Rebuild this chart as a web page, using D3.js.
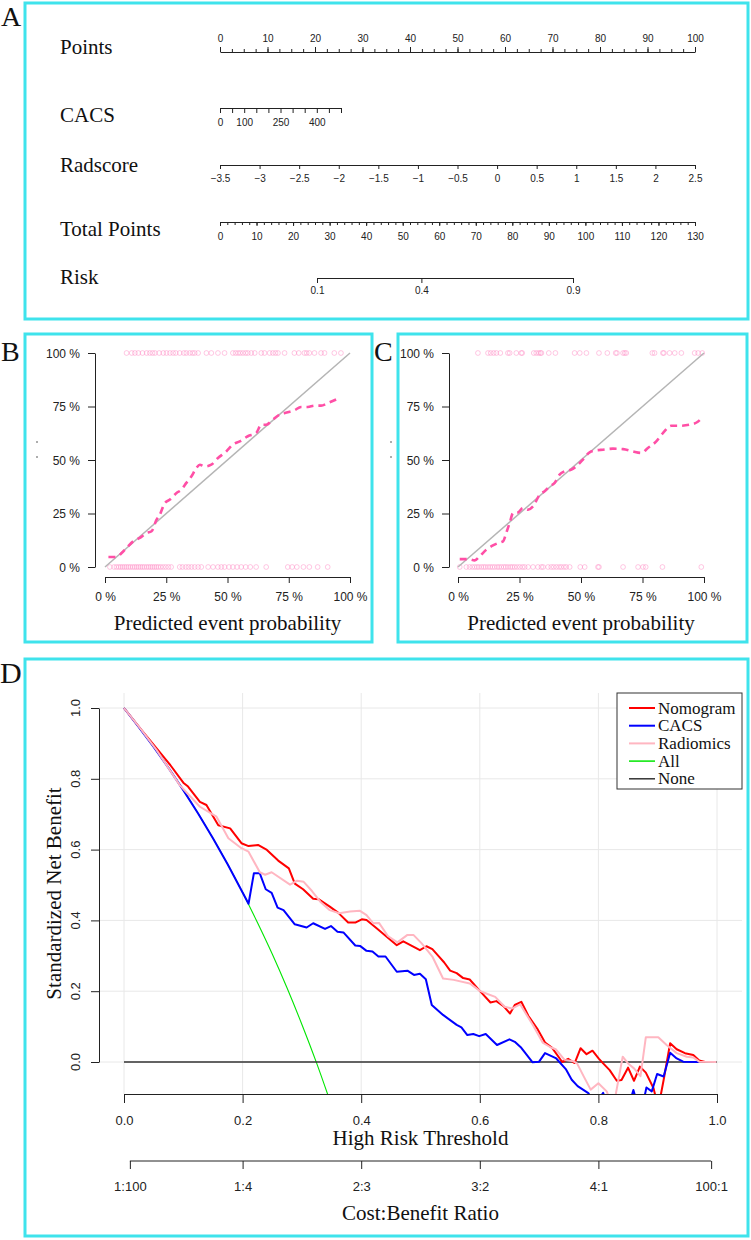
<!DOCTYPE html>
<html><head><meta charset="utf-8">
<script src="https://cdn.jsdelivr.net/npm/d3@7/dist/d3.min.js"></script>
<style>body{margin:0;background:#fff}
.serif{font-family:"Liberation Serif","Tinos","Times New Roman","DejaVu Serif",serif}
.sans{font-family:"Liberation Sans","Arimo",Arial,sans-serif}
</style>
</head><body>
<script>
// ---------- DATA ----------
// Panel A nomogram
const pointsLabels = [0,10,20,30,40,50,60,70,80,90,100];
const cacsTicks = [0,50,100,150,200,250,300,350,400,450,500];
const cacsLabels = [0,100,250,400];
const radTicks = [-3.5,-3,-2.5,-2,-1.5,-1,-0.5,0,0.5,1,1.5,2,2.5];
const totalLabels = [0,10,20,30,40,50,60,70,80,90,100,110,120,130];
const riskTicks = [0.1,0.4,0.9];
// Panel B calibration
const pctTicks = [0,0.25,0.5,0.75,1];
const pctLabels = ["0 %","25 %","50 %","75 %","100 %"];
const calB_events = [0.088,0.109,0.122,0.136,0.153,0.170,0.183,0.194,0.204,0.221,0.238,0.251,0.265,0.278,0.289,0.305,0.322,0.332,0.346,0.357,0.366,0.380,0.414,0.434,0.461,0.488,0.522,0.533,0.543,0.552,0.563,0.574,0.583,0.597,0.611,0.638,0.651,0.672,0.685,0.696,0.706,0.733,0.773,0.791,0.814,0.823,0.834,0.855,0.882,0.896,0.936,0.963];
const calB_nonevents = [0.020,0.037,0.047,0.056,0.064,0.072,0.080,0.088,0.096,0.104,0.113,0.121,0.129,0.137,0.145,0.153,0.161,0.170,0.178,0.186,0.194,0.202,0.210,0.218,0.227,0.237,0.248,0.259,0.270,0.305,0.316,0.330,0.341,0.353,0.366,0.380,0.393,0.421,0.441,0.461,0.475,0.488,0.506,0.522,0.539,0.556,0.574,0.593,0.617,0.658,0.746,0.764,0.783,0.810,0.834,0.868,0.909];
const calB_curve = [[0.014,0.047],[0.047,0.047],[0.068,0.065],[0.088,0.089],[0.115,0.12],[0.142,0.136],[0.17,0.159],[0.19,0.167],[0.21,0.22],[0.224,0.245],[0.244,0.299],[0.265,0.315],[0.292,0.346],[0.312,0.361],[0.332,0.393],[0.353,0.424],[0.373,0.463],[0.387,0.478],[0.407,0.47],[0.434,0.478],[0.461,0.509],[0.495,0.54],[0.522,0.572],[0.55,0.587],[0.583,0.611],[0.617,0.626],[0.638,0.665],[0.658,0.665],[0.685,0.688],[0.712,0.712],[0.746,0.723],[0.773,0.732],[0.8,0.748],[0.828,0.748],[0.855,0.754],[0.882,0.754],[0.909,0.766],[0.957,0.79]];
// Panel C calibration
const calC_events = [0.081,0.122,0.133,0.145,0.156,0.172,0.203,0.210,0.237,0.257,0.261,0.308,0.318,0.328,0.335,0.339,0.369,0.396,0.474,0.495,0.522,0.573,0.607,0.641,0.646,0.671,0.678,0.684,0.790,0.799,0.833,0.837,0.860,0.881,0.908,0.962,0.976,0.993];
const calC_nonevents = [0.007,0.034,0.047,0.058,0.068,0.077,0.085,0.095,0.104,0.112,0.122,0.131,0.140,0.149,0.159,0.167,0.176,0.186,0.194,0.203,0.213,0.221,0.230,0.240,0.251,0.262,0.271,0.285,0.305,0.325,0.339,0.346,0.366,0.379,0.389,0.400,0.411,0.420,0.431,0.440,0.454,0.497,0.515,0.569,0.573,0.671,0.732,0.752,0.763,0.831,0.989];
const calC_curve = [[0.007,0.037],[0.041,0.037],[0.068,0.031],[0.088,0.050],[0.115,0.081],[0.136,0.097],[0.163,0.112],[0.183,0.120],[0.196,0.159],[0.210,0.206],[0.224,0.252],[0.244,0.255],[0.264,0.276],[0.285,0.268],[0.305,0.283],[0.332,0.338],[0.352,0.354],[0.373,0.377],[0.393,0.393],[0.413,0.432],[0.434,0.447],[0.461,0.455],[0.488,0.478],[0.508,0.502],[0.535,0.536],[0.562,0.545],[0.589,0.548],[0.630,0.553],[0.671,0.551],[0.711,0.540],[0.745,0.533],[0.772,0.556],[0.806,0.587],[0.833,0.626],[0.867,0.660],[0.901,0.660],[0.942,0.665],[0.976,0.680],[0.996,0.704]];
// Panel D decision curves [threshold, standardized net benefit]
const dcaXTicks = [0,0.2,0.4,0.6,0.8,1.0];
const dcaYTicks = [0,0.2,0.4,0.6,0.8,1.0];
const costThresholds = [0.0099,0.2,0.4,0.6,0.8,0.9901];
const costLabels = ["1:100","1:4","2:3","3:2","4:1","100:1"];
const legendNames = ["Nomogram","CACS","Radiomics","All","None"];
const nomogramNB = [[0,1.0],[0.03,0.937],[0.055,0.886],[0.078,0.839],[0.1,0.789],[0.108,0.778],[0.128,0.735],[0.139,0.726],[0.159,0.669],[0.179,0.660],[0.198,0.618],[0.21,0.610],[0.226,0.613],[0.241,0.599],[0.26,0.569],[0.278,0.547],[0.288,0.504],[0.302,0.488],[0.319,0.461],[0.328,0.460],[0.347,0.439],[0.361,0.422],[0.378,0.394],[0.39,0.394],[0.401,0.403],[0.409,0.401],[0.426,0.378],[0.443,0.354],[0.46,0.330],[0.471,0.341],[0.499,0.316],[0.51,0.327],[0.52,0.319],[0.532,0.296],[0.54,0.281],[0.55,0.258],[0.561,0.251],[0.572,0.237],[0.583,0.233],[0.6,0.201],[0.618,0.168],[0.628,0.172],[0.64,0.158],[0.651,0.137],[0.659,0.161],[0.67,0.170],[0.682,0.130],[0.697,0.094],[0.71,0.055],[0.722,0.040],[0.739,0.0],[0.749,0.009],[0.76,-0.003],[0.77,0.039],[0.78,0.022],[0.79,0.032],[0.801,0.009],[0.808,-0.004],[0.819,-0.023],[0.831,-0.053],[0.839,-0.051],[0.85,-0.016],[0.86,-0.053],[0.87,-0.013],[0.88,-0.030],[0.893,-0.074],[0.901,-0.13],[0.91,-0.051],[0.921,0.053],[0.932,0.036],[0.946,0.025],[0.96,0.020],[0.97,0.004],[0.98,0.0]];
const cacsNB = [[0,1],[0.025,0.946],[0.05,0.89],[0.075,0.831],[0.1,0.768],[0.125,0.702],[0.15,0.632],[0.175,0.558],[0.2,0.479],[0.21,0.447],[0.219,0.533],[0.229,0.533],[0.239,0.488],[0.249,0.478],[0.259,0.436],[0.269,0.429],[0.288,0.389],[0.308,0.380],[0.319,0.392],[0.339,0.376],[0.349,0.384],[0.36,0.368],[0.37,0.366],[0.39,0.329],[0.398,0.328],[0.409,0.314],[0.419,0.312],[0.429,0.298],[0.441,0.298],[0.46,0.255],[0.478,0.258],[0.489,0.246],[0.499,0.249],[0.509,0.234],[0.519,0.161],[0.538,0.133],[0.561,0.105],[0.569,0.098],[0.579,0.076],[0.589,0.079],[0.599,0.073],[0.61,0.079],[0.629,0.048],[0.65,0.064],[0.659,0.057],[0.67,0.040],[0.689,-0.001],[0.7,0.001],[0.71,0.025],[0.729,0.010],[0.745,-0.02],[0.755,-0.05],[0.765,-0.068],[0.783,-0.088],[0.795,-0.12],[0.808,-0.087],[0.815,-0.12],[0.852,-0.12],[0.859,-0.079],[0.866,-0.12],[0.875,-0.12],[0.881,-0.072],[0.89,-0.083],[0.899,-0.034],[0.91,-0.041],[0.921,0.026],[0.932,0.010],[0.943,0.001],[0.97,0.0]];
const radiomicsNB = [[0,1],[0.03,0.937],[0.055,0.881],[0.094,0.782],[0.128,0.721],[0.156,0.693],[0.176,0.632],[0.198,0.604],[0.21,0.594],[0.229,0.536],[0.238,0.529],[0.249,0.536],[0.28,0.501],[0.292,0.512],[0.303,0.509],[0.317,0.483],[0.331,0.453],[0.347,0.429],[0.363,0.420],[0.381,0.425],[0.398,0.427],[0.409,0.415],[0.42,0.392],[0.43,0.393],[0.445,0.356],[0.461,0.338],[0.478,0.359],[0.488,0.359],[0.502,0.335],[0.52,0.298],[0.538,0.236],[0.556,0.232],[0.583,0.222],[0.6,0.201],[0.613,0.192],[0.626,0.184],[0.642,0.156],[0.654,0.151],[0.668,0.163],[0.69,0.103],[0.706,0.055],[0.72,0.041],[0.728,0.036],[0.743,0.006],[0.758,0.002],[0.764,-0.004],[0.775,-0.04],[0.787,-0.078],[0.8,-0.06],[0.814,-0.083],[0.825,-0.13],[0.841,0.015],[0.85,-0.004],[0.86,-0.018],[0.871,-0.040],[0.88,0.070],[0.901,0.070],[0.915,0.048],[0.932,0.025],[0.949,0.015],[0.96,0.013],[0.97,0.001],[0.999,0.0]];
const allNB = [[0,1],[0.025,0.946],[0.05,0.89],[0.075,0.831],[0.1,0.768],[0.125,0.702],[0.15,0.632],[0.175,0.558],[0.2,0.479],[0.225,0.394],[0.25,0.305],[0.275,0.209],[0.3,0.106],[0.325,-0.004],[0.35,-0.123]];
const noneNB = [[0,0],[1,0]];

// ---------- DRAW ----------
const CYAN = "#3fe3ec";
const svg = d3.select("body").append("svg").attr("width",751).attr("height",1240);
svg.append("rect").attr("width",751).attr("height",1240).attr("fill","#fff");

function serifText(sel,size){ return sel.attr("class","serif").attr("font-size",size).attr("fill","#111"); }
function frame(x0,y0,x1,y1){
  svg.append("rect").attr("x",x0).attr("y",y0).attr("width",x1-x0).attr("height",y1-y0)
    .attr("fill","none").attr("stroke",CYAN).attr("stroke-width",3);
}
function letter(t,x,y,size){
  serifText(svg.append("text").attr("x",x).attr("y",y).text(t), size||28);
}
function styleAxis(g,fs){
  g.attr("font-family",null).attr("class","sans").attr("font-size",fs);
  g.select(".domain").attr("stroke","#222");
  g.selectAll(".tick line").attr("stroke","#222");
  g.selectAll(".tick text").attr("fill","#222");
}

// Panel A
frame(25,3,748,319);
letter("A",1,26);
const rowLabels = [["Points",54],["CACS",122],["Radscore",172],["Total Points",236],["Risk",284]];
rowLabels.forEach(([t,y])=>serifText(svg.append("text").attr("x",60).attr("y",y).text(t),21));

const xPts = d3.scaleLinear().domain([0,100]).range([220,695]);
const gPm = svg.append("g").attr("transform","translate(0,52)")
  .call(d3.axisTop(xPts).tickValues(d3.range(0,100.01,2.5)).tickSize(3).tickSizeOuter(0).tickFormat(""));
styleAxis(gPm,10); gPm.select(".domain").remove();
const gP = svg.append("g").attr("transform","translate(0,52)")
  .call(d3.axisTop(xPts).tickValues(pointsLabels).tickSize(5).tickSizeOuter(0).tickPadding(5));
styleAxis(gP,10);

const xCacs = d3.scaleLinear().domain([0,500]).range([220,341]);
const gC = svg.append("g").attr("transform","translate(0,108)")
  .call(d3.axisBottom(xCacs).tickValues(cacsTicks).tickSize(5).tickSizeOuter(0).tickFormat(""));
styleAxis(gC,10);
const gCl = svg.append("g").attr("transform","translate(0,108)")
  .call(d3.axisBottom(xCacs).tickValues(cacsLabels).tickSize(0).tickSizeOuter(0).tickPadding(10.5));
styleAxis(gCl,10); gCl.select(".domain").remove();

const xRad = d3.scaleLinear().domain([-3.5,2.5]).range([220,695]);
const gR = svg.append("g").attr("transform","translate(0,165)")
  .call(d3.axisBottom(xRad).tickValues(radTicks).tickSize(4).tickSizeOuter(0).tickPadding(6).tickFormat(d=>d3.format("")(d).replace("-","\u2212")));
styleAxis(gR,10);

const xTot = d3.scaleLinear().domain([0,130]).range([220,695]);
const gTm = svg.append("g").attr("transform","translate(0,222)")
  .call(d3.axisBottom(xTot).tickValues(d3.range(0,130.01,2)).tickSize(3).tickSizeOuter(0).tickFormat(""));
styleAxis(gTm,10);
const gT = svg.append("g").attr("transform","translate(0,222)")
  .call(d3.axisBottom(xTot).tickValues(totalLabels).tickSize(4).tickSizeOuter(0).tickPadding(7));
styleAxis(gT,10); gT.select(".domain").remove();

const logit = p=>Math.log(p/(1-p));
const xRisk = d3.scaleLinear().domain([logit(0.1),logit(0.9)]).range([317,573]);
const gK = svg.append("g").attr("transform","translate(0,278)")
  .call(d3.axisBottom(xRisk).tickValues(riskTicks.map(logit)).tickSize(5).tickSizeOuter(0).tickPadding(4)
    .tickFormat((d,i)=>String(riskTicks[i])));
styleAxis(gK,10);

// Panels B and C
function calPanel(cfg){
  frame(cfg.fx0,334,cfg.fx1,642);
  letter(cfg.letter,cfg.lx,361);
  const x = d3.scaleLinear().domain([0,1]).range([cfg.x0,cfg.x1]);
  const y = d3.scaleLinear().domain([0,1]).range([567,353]);
  const g = svg.append("g");
  const circ = (arr,val)=>g.append("g").selectAll("circle").data(arr).join("circle")
    .attr("cx",d=>x(d)).attr("cy",y(val)).attr("r",2.4).attr("fill","none")
    .attr("stroke","#ff86c2").attr("stroke-opacity",0.5).attr("stroke-width",0.9);
  circ(cfg.ev,1); circ(cfg.ne,0);
  g.append("path").datum([[0,0],[1,1]]).attr("d",d3.line().x(d=>x(d[0])).y(d=>y(d[1])))
    .attr("stroke","#b5b5b5").attr("stroke-width",1.5).attr("fill","none");
  g.append("path").datum(cfg.curve).attr("d",d3.line().x(d=>x(d[0])).y(d=>y(d[1])).curve(d3.curveMonotoneX))
    .attr("stroke","#ff4fa6").attr("stroke-width",2.6).attr("fill","none").attr("stroke-dasharray","7,5");
  const gy = svg.append("g").attr("transform",`translate(${cfg.ax},0)`)
    .call(d3.axisLeft(y).tickValues(pctTicks).tickSize(7).tickSizeOuter(0).tickPadding(8).tickFormat((d,i)=>pctLabels[i]));
  styleAxis(gy,12);
  gy.selectAll(".tick text").attr("dy","0.35em");
  const gx = svg.append("g").attr("transform","translate(0,577)")
    .call(d3.axisBottom(x).tickValues(pctTicks).tickSize(6).tickSizeOuter(0).tickPadding(9).tickFormat((d,i)=>pctLabels[i]));
  styleAxis(gx,12);
  serifText(svg.append("text").attr("x",(cfg.x0+cfg.x1)/2).attr("y",630).attr("text-anchor","middle")
    .text("Predicted event probability"),21);
  [442,457].forEach(yy=>svg.append("circle").attr("cx",cfg.dotx).attr("cy",yy).attr("r",0.8).attr("fill","#444"));
}
calPanel({fx0:25,fx1:372,letter:"B",lx:1,x0:105,x1:350,ax:95,ev:calB_events,ne:calB_nonevents,curve:calB_curve,dotx:37});
calPanel({fx0:398,fx1:747,letter:"C",lx:374,x0:458,x1:704,ax:449,ev:calC_events,ne:calC_nonevents,curve:calC_curve,dotx:391});

// Panel D
frame(25,659,748,1236);
letter("D",0,683,30);
const xD = d3.scaleLinear().domain([0,1]).range([124,717]);
const yD = d3.scaleLinear().domain([0,1]).range([1062,708]);
const PL = 99, PR = 742, PT = 693, PB = 1094;
const gGrid = svg.append("g");
gGrid.selectAll("line.v").data(dcaXTicks).join("line").attr("x1",d=>xD(d)).attr("x2",d=>xD(d))
  .attr("y1",PT).attr("y2",PB).attr("stroke","#e8e8e8").attr("stroke-width",1);
gGrid.selectAll("line.h").data(dcaYTicks).join("line").attr("y1",d=>yD(d)).attr("y2",d=>yD(d))
  .attr("x1",PL).attr("x2",PR).attr("stroke","#e8e8e8").attr("stroke-width",1);
svg.append("clipPath").attr("id","clipD").append("rect").attr("x",PL).attr("y",PT).attr("width",PR-PL).attr("height",PB-PT);
const gL = svg.append("g").attr("clip-path","url(#clipD)");
const lineD = d3.line().x(d=>xD(d[0])).y(d=>yD(d[1]));
const series = [
  {data:allNB,color:"#00e600",w:1.1,curve:d3.curveMonotoneX},
  {data:noneNB,color:"#333",w:1.3},
  {data:nomogramNB,color:"#ff0000",w:2},
  {data:cacsNB,color:"#0000ff",w:2},
  {data:radiomicsNB,color:"#ffb6c1",w:2}
];
series.forEach(s=>{
  gL.append("path").datum(s.data).attr("d",s.curve?d3.line().x(d=>xD(d[0])).y(d=>yD(d[1])).curve(s.curve):lineD)
    .attr("fill","none").attr("stroke",s.color).attr("stroke-width",s.w).attr("stroke-linejoin","round");
});
// y axis
const gyD = svg.append("g").attr("transform",`translate(${PL},0)`)
  .call(d3.axisLeft(yD).tickValues(dcaYTicks).tickSize(8).tickSizeOuter(0).tickFormat(""));
styleAxis(gyD,13);
svg.append("g").selectAll("text").data(dcaYTicks).join("text")
  .attr("transform",d=>`translate(80,${yD(d)}) rotate(-90)`).attr("text-anchor","middle")
  .text(d=>d3.format(".1f")(d)).attr("class","sans").attr("font-size",13).attr("fill","#222");
serifText(svg.append("text").attr("transform",`translate(61,${(PT+PB)/2}) rotate(-90)`).attr("text-anchor","middle")
  .text("Standardized Net Benefit"),21);
// x axis
const gxD = svg.append("g").attr("transform",`translate(0,${PB})`)
  .call(d3.axisBottom(xD).tickValues(dcaXTicks).tickSize(9).tickSizeOuter(0).tickPadding(13).tickFormat(d3.format(".1f")));
styleAxis(gxD,13);
serifText(svg.append("text").attr("x",(xD(0)+xD(1))/2).attr("y",1145).attr("text-anchor","middle")
  .text("High Risk Threshold"),21);
// cost:benefit axis
const gcb = svg.append("g").attr("transform","translate(0,1161)")
  .call(d3.axisBottom(xD).tickValues(costThresholds).tickSize(8).tickSizeOuter(0).tickPadding(13).tickFormat((d,i)=>costLabels[i]));
styleAxis(gcb,13);
gcb.select(".domain").remove();
gcb.append("line").attr("x1",xD(costThresholds[0])).attr("x2",xD(costThresholds[5])).attr("y1",0).attr("y2",0).attr("stroke","#222");
serifText(svg.append("text").attr("x",(xD(0)+xD(1))/2).attr("y",1220).attr("text-anchor","middle")
  .text("Cost:Benefit Ratio"),21);
// legend
const legColors = ["#ff0000","#0000ff","#ffb6c1","#00e600","#333"];
svg.append("rect").attr("x",617).attr("y",PT).attr("width",PR-617).attr("height",96)
  .attr("fill","#fff").attr("stroke","#333").attr("stroke-width",1);
const gLeg = svg.append("g");
legendNames.forEach((n,i)=>{
  const yy = 708 + i*17.7;
  gLeg.append("line").attr("x1",629).attr("x2",655).attr("y1",yy).attr("y2",yy).attr("stroke",legColors[i]).attr("stroke-width",i<3?2:1.5);
  serifText(gLeg.append("text").attr("x",658).attr("y",yy+5.5).text(n),17);
});
</script>
</body></html>
